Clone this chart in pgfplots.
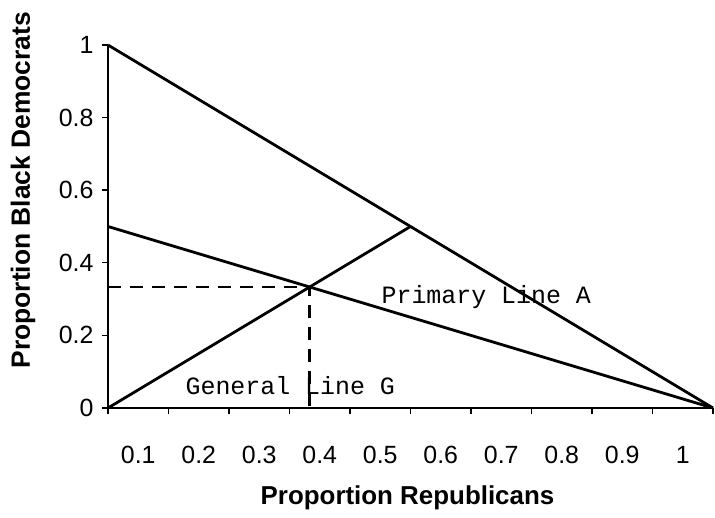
\documentclass[border=0pt]{standalone}
\usepackage{fontspec}
\setmainfont{Liberation Sans}
\setmonofont{Liberation Mono}
\usepackage{pgfplots}
\pgfplotsset{compat=1.18}
\begin{document}
\begin{tikzpicture}
\begin{axis}[
  at={(0,0)}, anchor=south west,
  scale only axis, width=605bp, height=363bp,
  xmin=0, xmax=1, ymin=0, ymax=1,
  clip=false,
  axis x line=bottom, axis y line=left,
  axis line style={line width=1.8bp, -},
  xtick={0,0.1,0.2,0.3,0.4,0.5,0.6,0.7,0.8,0.9},
  xticklabels={0.1,0.2,0.3,0.4,0.5,0.6,0.7,0.8,0.9,1},
  extra x ticks={1}, extra x tick labels={},
  ytick={0,0.2,0.4,0.6,0.8,1}, yticklabels={0,0.2,0.4,0.6,0.8,1},
  tick align=outside, major tick length=6bp,
  tick style={line width=1.4bp, black},
  ticklabel style={font=\fontsize{25}{30}\selectfont},
  xticklabel style={xshift=30.25bp, yshift=-29bp},
  yticklabel style={xshift=-5bp},
  /pgf/number format/assume math mode=true,
  xlabel={Proportion Republicans}, ylabel={Proportion Black Democrats},
  xlabel style={font=\bfseries\fontsize{26}{30}\selectfont, at={(rel axis cs:0.495,-0.248)}, anchor=center},
  ylabel style={font=\bfseries\fontsize{26.5}{30}\selectfont, at={(rel axis cs:-0.1405,0.6)}, anchor=center},
]
\addplot[black, line width=2.8bp] coordinates {(0,1) (1,0)};
\addplot[black, line width=2.8bp] coordinates {(0,0.5) (1,0)};
\addplot[black, line width=2.8bp] coordinates {(0,0) (0.5,0.5)};
\addplot[black, line width=2.8bp, dash pattern=on 13bp off 9bp] coordinates {(0,0.3333) (0.3333,0.3333) (0.3333,0)};
\node[anchor=west, inner sep=0pt, font=\ttfamily\fontsize{25}{28}\selectfont] at (axis cs:0.452,0.306) {Primary Line A};
\node[anchor=west, inner sep=0pt, font=\ttfamily\fontsize{25}{28}\selectfont] at (axis cs:0.128,0.063) {General Line G};
\end{axis}
\pgfresetboundingbox
\useasboundingbox (-108bp,-110bp) rectangle (607bp,408bp);
\end{tikzpicture}
\end{document}
